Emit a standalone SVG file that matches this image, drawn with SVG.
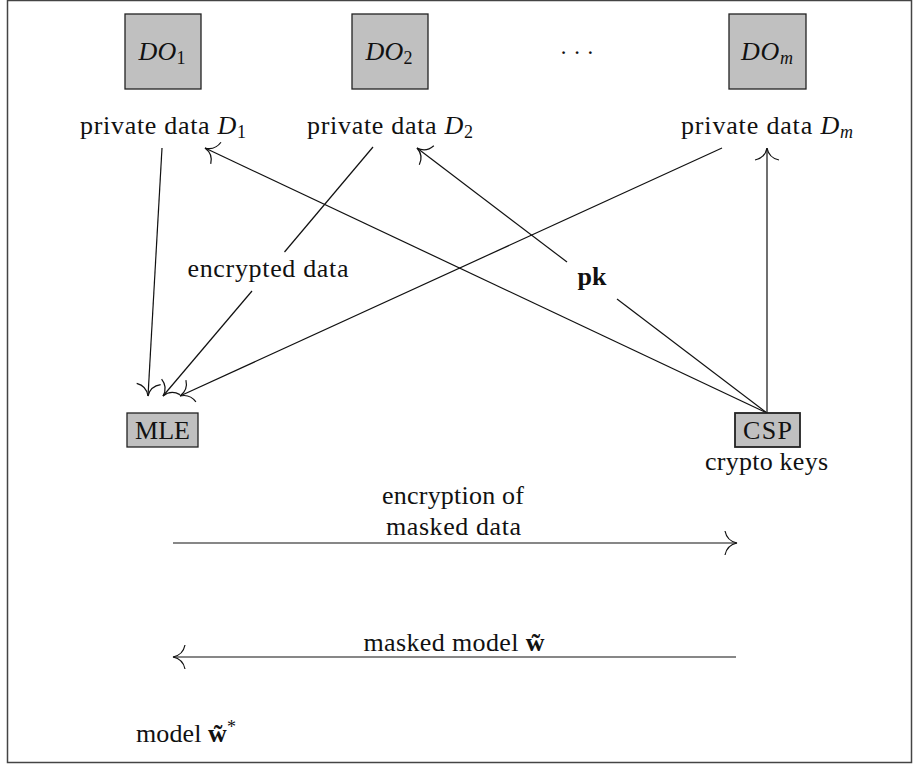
<svg xmlns="http://www.w3.org/2000/svg" width="920" height="764" viewBox="0 0 920 764">
<style>
  text { font-family: "Liberation Serif", "DejaVu Serif", serif; font-size: 26px; fill: #111; }
  .box { fill: #c0c0c0; stroke: #222; stroke-width: 1.3; }
  .it { font-style: italic; }
  .sub { font-size: 18px; font-style: normal; }
  .subit { font-size: 18px; font-style: italic; }
  .bf { font-weight: bold; }
  .edge { stroke: #111; stroke-width: 1.2; fill: none; }
  .arr { marker-end: url(#to); }
</style>
<defs>
  <marker id="to" markerUnits="userSpaceOnUse" markerWidth="32" markerHeight="32" viewBox="-16 -16 32 32" refX="0" refY="0" orient="auto" overflow="visible">
    <path d="M -12 -12 Q -10 -2 0 0 Q -10 2 -12 12" fill="none" stroke="#111" stroke-width="1.2"/>
  </marker>
</defs>
<rect x="7.5" y="0.5" width="904" height="762" fill="#fff" stroke="#444" stroke-width="1.5"/>

<g id="connectors">
  <line class="edge arr" x1="162" y1="148" x2="148" y2="396"/>
  <line class="edge" x1="373" y1="147" x2="284.5" y2="252"/>
  <line class="edge arr" x1="252" y1="291" x2="163" y2="396"/>
  <line class="edge arr" x1="722" y1="148" x2="180" y2="396"/>
  <line class="edge arr" x1="767" y1="413" x2="205" y2="148"/>
  <line class="edge" x1="767" y1="413" x2="617" y2="299"/>
  <line class="edge arr" x1="567" y1="262" x2="417" y2="148"/>
  <line class="edge arr" x1="767" y1="413" x2="767" y2="148"/>
  <line class="edge arr" x1="173" y1="543" x2="737" y2="543"/>
  <line class="edge arr" x1="736" y1="657" x2="173" y2="657"/>
</g>

<g id="DO1">
  <rect class="box" x="125" y="14" width="76" height="75"/>
  <text x="162" y="60" text-anchor="middle" textLength="47"><tspan class="it">DO</tspan><tspan class="sub" dy="4">1</tspan></text>
</g>
<g id="DO2">
  <rect class="box" x="352" y="14" width="76" height="75"/>
  <text x="389" y="60" text-anchor="middle" textLength="47"><tspan class="it">DO</tspan><tspan class="sub" dy="4">2</tspan></text>
</g>
<g id="dots">
  <text x="577" y="60" text-anchor="middle" style="font-size:23px">· · ·</text>
</g>
<g id="DOm">
  <rect class="box" x="729" y="14" width="77" height="75"/>
  <text x="767" y="60" text-anchor="middle" textLength="52"><tspan class="it">DO</tspan><tspan class="subit" dy="4">m</tspan></text>
</g>

<g id="D1">
  <text x="163" y="134" text-anchor="middle" textLength="166">private data <tspan class="it">D</tspan><tspan class="sub" dy="4">1</tspan></text>
</g>
<g id="D2">
  <text x="390" y="134" text-anchor="middle" textLength="166">private data <tspan class="it">D</tspan><tspan class="sub" dy="4">2</tspan></text>
</g>
<g id="Dm">
  <text x="767" y="134" text-anchor="middle" textLength="172">private data <tspan class="it">D</tspan><tspan class="subit" dy="4">m</tspan></text>
</g>

<g id="enc">
  <text x="268" y="277" text-anchor="middle" textLength="161">encrypted data</text>
</g>
<g id="pk">
  <text x="592" y="285" text-anchor="middle" class="bf">pk</text>
</g>

<g id="MLE">
  <rect class="box" x="127" y="413" width="71" height="34"/>
  <text x="162.5" y="439" text-anchor="middle" textLength="55">MLE</text>
</g>
<g id="CSP">
  <rect class="box" x="735" y="413" width="65" height="34" style="stroke-width:1.8"/>
  <text x="767.5" y="439" text-anchor="middle" textLength="49">CSP</text>
  <text x="766.5" y="470" text-anchor="middle" textLength="123">crypto keys</text>
</g>

<g id="labels">
  <text x="453" y="504" text-anchor="middle" textLength="142">encryption of</text>
  <text x="453.5" y="535" text-anchor="middle" textLength="135">masked data</text>
  <text x="454" y="651" text-anchor="middle" textLength="181">masked model <tspan class="bf">w̃</tspan></text>
  <text x="186" y="742" text-anchor="middle" textLength="100">model <tspan class="bf">w̃</tspan><tspan class="sub" dy="-9">*</tspan></text>
</g>
</svg>
